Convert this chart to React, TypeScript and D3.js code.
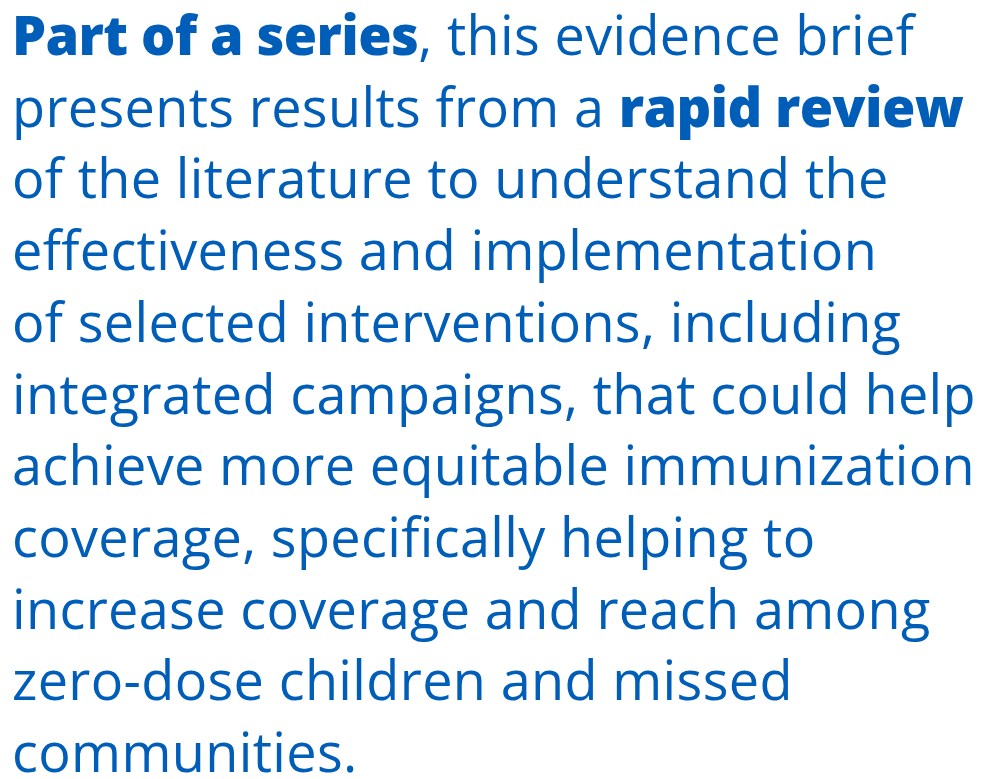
import React, { useEffect, useRef } from "react";
import * as d3 from "d3";

// each line is a list of [text, bold] runs
const lines: [string, boolean][][] = [
  [["Part of a series", true], [", this evidence brief", false]],
  [["presents results from a ", false], ["rapid review", true]],
  [["of the literature to understand the", false]],
  [["effectiveness and implementation", false]],
  [["of selected interventions, including", false]],
  [["integrated campaigns, that could help", false]],
  [["achieve more equitable immunization", false]],
  [["coverage, specifically helping to", false]],
  [["increase coverage and reach among", false]],
  [["zero-dose children and missed", false]],
  [["communities.", false]],
];

const width = 985;
const height = 779;

const App = () => {
  const ref = useRef<SVGSVGElement>(null);

  useEffect(() => {
    const svg = d3.select(ref.current);
    svg.selectAll("*").remove();

    const margin = { left: 12, top: 55 };
    const lineHeight = 71.7;

    const y = d3
      .scaleLinear()
      .domain([0, lines.length - 1])
      .range([margin.top, margin.top + lineHeight * (lines.length - 1)]);

    const g = svg.append("g").attr("transform", `translate(${margin.left},0)`);

    const text = g
      .selectAll("text")
      .data(lines)
      .join("text")
      .attr("x", 0)
      .attr("y", (d, i) => y(i))
      .attr("fill", "#005EB8")
      .style("font-family", "'Open Sans', sans-serif")
      .style("font-size", "54px")
      .style("font-variant-ligatures", "none");

    text
      .selectAll("tspan")
      .data((d) => d)
      .join("tspan")
      .attr("font-weight", (d) => (d[1] ? 800 : 400))
      .attr("letter-spacing", (d) => (d[1] ? -0.6 : 0.35))
      .style("white-space", "pre")
      .text((d) => d[0]);
  }, []);

  return (
    <svg
      ref={ref}
      width={width}
      height={height}
      style={{ position: "absolute", left: 0, top: 0, background: "#fff" }}
    />
  );
};

export default App;
